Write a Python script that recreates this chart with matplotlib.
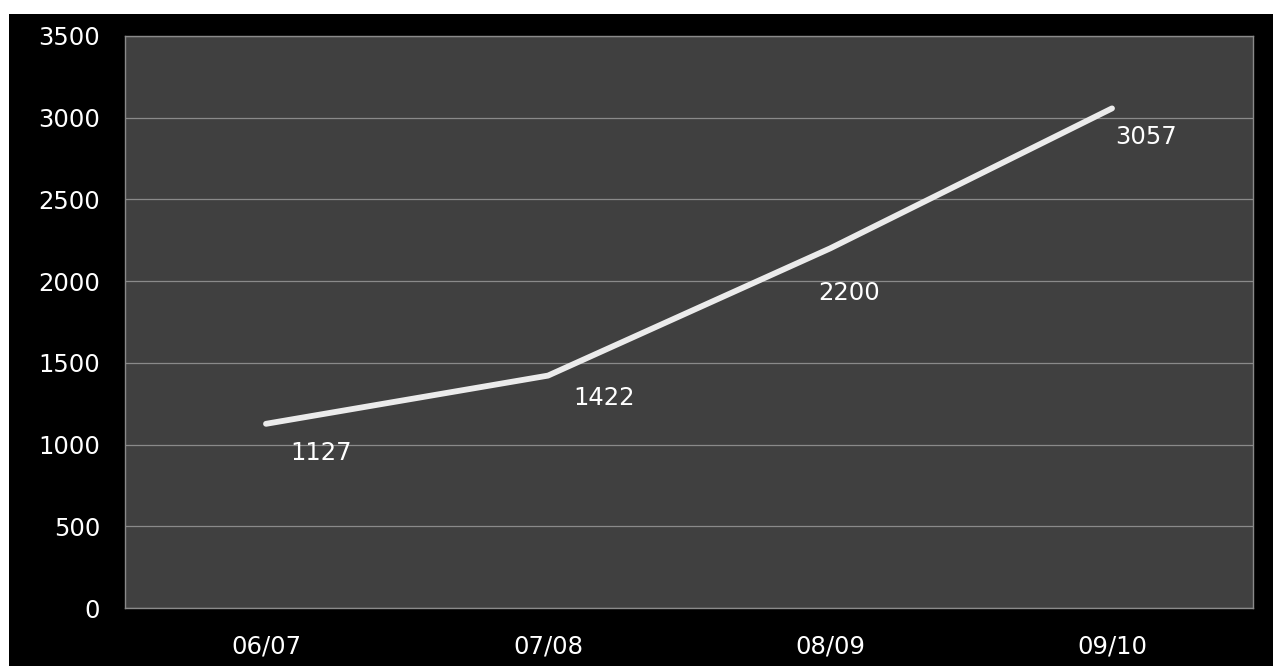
import matplotlib.pyplot as plt
from matplotlib.patches import Rectangle

# data
seasons = ['06/07', '07/08', '08/09', '09/10']
values = [1127, 1422, 2200, 3057]
# label offsets (pixels) from each point
label_dx = [55, 56, 19, 34]
label_dy = [-29, -22, -45, -29]

fig = plt.figure(figsize=(12.75, 6.66), dpi=100, facecolor='white')
# black frame behind the chart
fig.patches.append(Rectangle((9 / 1275, 0), (1273 - 9) / 1275, (666 - 14) / 666,
                             transform=fig.transFigure, facecolor='black',
                             edgecolor='none', zorder=-10))

ax = fig.add_axes([125 / 1275, 58 / 666, 1128 / 1275, 572 / 666])
ax.set_facecolor('#404040')

x = range(len(seasons))
ax.plot(x, values, color='#ebebeb', linewidth=4.2, solid_capstyle='round', zorder=3)

for i, v in enumerate(values):
    ax.annotate(str(v), (i, v), xytext=(label_dx[i], label_dy[i]),
                textcoords='offset pixels', ha='center', va='center',
                color='white', fontsize=17.5, family='DejaVu Sans')

ax.set_xlim(-0.5, 3.5)
ax.set_ylim(0, 3500)
ax.set_yticks(range(0, 3501, 500))
ax.set_xticks(list(x))
ax.set_xticklabels(seasons)
ax.grid(axis='y', color='#8a8a8a', linewidth=0.9)
ax.set_axisbelow(True)
ax.tick_params(axis='both', length=0, colors='white', labelsize=17.5)
ax.tick_params(axis='y', pad=18)
ax.tick_params(axis='x', pad=19)
for s in ax.spines.values():
    s.set_color('#8a8a8a')
    s.set_linewidth(1)

plt.savefig('out.png', dpi=100, facecolor='white')
